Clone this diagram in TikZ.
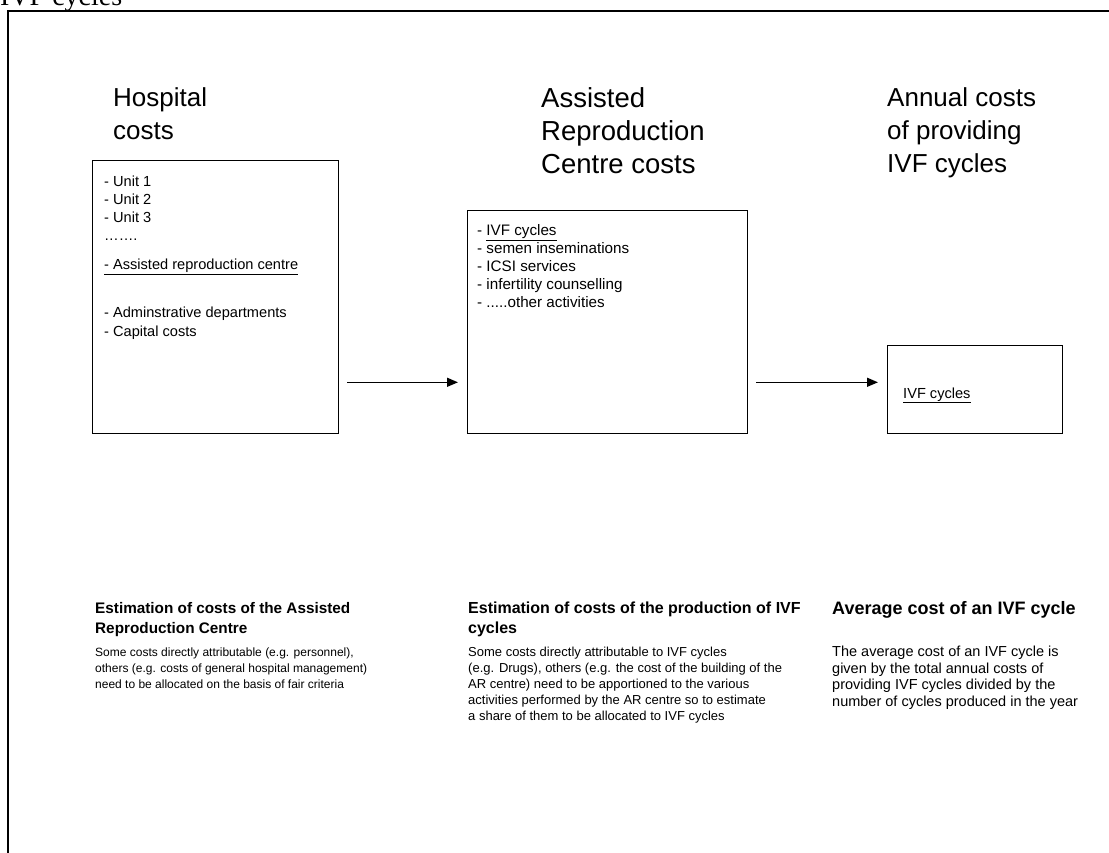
\documentclass[tikz,border=0pt]{standalone}
\usepackage{fontspec}
\setmainfont{Liberation Sans}
\newfontfamily\titlefont{Liberation Serif}
\usetikzlibrary{arrows.meta}

\begin{document}
\begin{tikzpicture}[x=1pt,y=-1pt,
    box/.style={draw,line width=1.3pt,anchor=north west,inner sep=0pt},
    head/.style={anchor=north west,inner sep=0pt,align=left,font=\fontsize{26}{33}\selectfont},
    list/.style={anchor=north west,inner sep=0pt,align=left,font=\fontsize{14.6}{18}\selectfont},
    subhead/.style={anchor=north west,inner sep=0pt,align=left,font=\bfseries\fontsize{15.3}{20}\selectfont},
    body/.style={anchor=north west,inner sep=0pt,align=left,font=\fontsize{13}{16}\selectfont},
    arr/.style={line width=1.4pt,-{Triangle[length=11pt,width=9pt]}}]
        \useasboundingbox (0,0) rectangle (1109,853);
        \clip (0,0) rectangle (1109,853);
        % frame and cut title
        \draw[line width=1.5pt] (8,853) -- (8,11) -- (1109,11);
        \node[anchor=base west,inner sep=0pt,font=\titlefont\fontsize{28}{30}\selectfont] (title) at (0,6) {IVF cycles};
        % column heads
        \node[head] (hosphead) at (113,87) {Hospital\\costs};
        \node[head,font=\fontsize{27.5}{33}\selectfont] (arhead) at (541,87) {Assisted\\Reproduction\\Centre costs};
        \node[head] (annhead) at (887,87) {Annual costs\\of providing\\IVF cycles};
        % boxes
        \node[box,minimum width=246pt,minimum height=273pt] (hosp) at (92,160) {};
        \node[box,minimum width=280pt,minimum height=223pt] (arc) at (467,210) {};
        \node[box,minimum width=175pt,minimum height=88pt] (ivf) at (887,345) {};
        \node[list] (hosplist) at (104,176) {- Unit 1\\- Unit 2\\- Unit 3\\\ldots\ldots.\\[11pt]\underline{- Assisted reproduction centre}\\[30pt]- Adminstrative departments\\[1pt]- Capital costs};
        \node[list,font=\fontsize{15.2}{18}\selectfont] (arlist) at (477,224) {- \underline{IVF cycles}\\- semen inseminations\\- ICSI services\\- infertility counselling\\- .....other activities};
        \node[anchor=base west,inner sep=0pt,font=\fontsize{14.6}{18}\selectfont] (ivflist) at (903,398) {\underline{IVF cycles}};
        \draw[arr] ([xshift=8pt,yshift=52pt]hosp.south east) -- ([xshift=-9pt,yshift=52pt]arc.south west);
        \draw[arr] ([xshift=8pt,yshift=52pt]arc.south east) -- ([xshift=-9pt,yshift=52pt]ivf.south west);
        % notes below
        \node[subhead] (est1) at (95,602) {Estimation of costs of the Assisted\\Reproduction Centre};
        \node[subhead,font=\bfseries\fontsize{16}{20}\selectfont] (est2) at (468,602) {Estimation of costs of the production of IVF\\cycles};
        \node[subhead,font=\bfseries\fontsize{18}{20}\selectfont] (est3) at (832,601) {Average cost of an IVF cycle};
        \node[body,font=\fontsize{12}{16}\selectfont] (note1) at (95,648) {Some costs directly attributable (e.g. personnel),\\others (e.g. costs of general hospital management)\\need to be allocated on the basis of fair criteria};
        \node[body] (note2) at (468,647) {Some costs directly attributable to IVF cycles\\(e.g. Drugs), others (e.g. the cost of the building of the\\AR centre) need to be apportioned to the various\\activities performed by the AR centre so to estimate\\a share of them to be allocated to IVF cycles};
        \node[body,font=\fontsize{14.5}{16.5}\selectfont] (note3) at (832,646) {The average cost of an IVF cycle is\\given by the total annual costs of\\providing IVF cycles divided by the\\number of cycles produced in the year};
    \end{tikzpicture}
\end{document}
